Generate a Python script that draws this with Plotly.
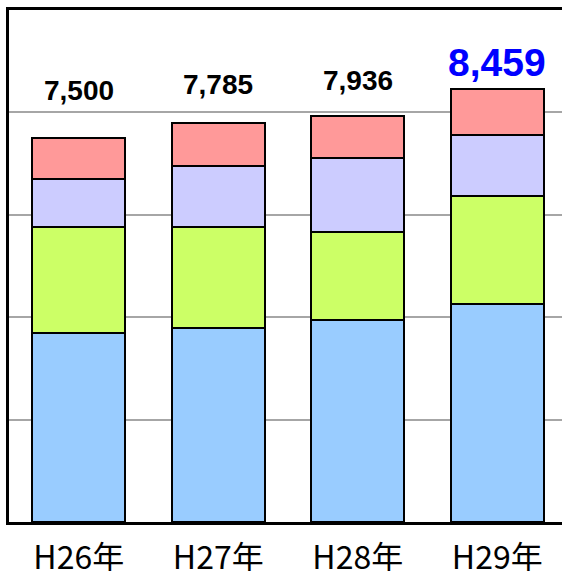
import plotly.graph_objects as go

categories = ["H26年", "H27年", "H28年", "H29年"]
seg_blue = [3700, 3780, 3940, 4250]
seg_green = [2070, 1990, 1720, 2110]
seg_lavender = [936, 1176, 1443, 1204]
seg_pink = [794, 839, 833, 895]
totals = [7500, 7785, 7936, 8459]
total_labels = ["7,500", "7,785", "7,936", "8,459"]

series = [
    (seg_blue, "#99CCFF"),
    (seg_green, "#CCFF66"),
    (seg_lavender, "#CCCCFF"),
    (seg_pink, "#FF9999"),
]

fig = go.Figure()
for vals, col in series:
    fig.add_trace(go.Bar(
        x=categories, y=vals, width=0.667,
        marker=dict(color=col, line=dict(color="black", width=2)),
        hoverinfo="skip", showlegend=False,
    ))

label_shift = [30, 21, 18, 3]
label_colors = ["black", "black", "black", "#0000FF"]
label_sizes = [28, 28, 28, 39]
for i, (c, t, lab) in enumerate(zip(categories, totals, total_labels)):
    fig.add_annotation(
        x=c, y=t, text="<b>%s</b>" % lab, showarrow=False,
        yanchor="bottom", yshift=label_shift[i],
        font=dict(family="Liberation Sans", size=label_sizes[i], color=label_colors[i]),
    )

fig.update_layout(
    width=562, height=571,
    margin=dict(l=9, r=0, t=10, b=49, autoexpand=False),
    barmode="stack",
    paper_bgcolor="white", plot_bgcolor="white",
    showlegend=False,
    xaxis=dict(
        range=[-0.5, 3.464], showline=True, linecolor="black", linewidth=3,
        mirror=True, ticks="", showgrid=False, automargin=False,
        ticklabelstandoff=6,
        tickfont=dict(family="Noto Sans CJK JP", size=32, color="black"),
    ),
    yaxis=dict(
        range=[0, 10000], dtick=2000, showline=True, linecolor="black", linewidth=3,
        showticklabels=False, ticks="", showgrid=True, gridcolor="#A6A6A6", gridwidth=2,
        zeroline=False, automargin=False,
    ),
)

fig.write_html(
    "out.html",
    config={"displayModeBar": False},
    post_script=(
        "document.body.style.margin='0';"
        "document.body.style.overflow='hidden';"
        "document.documentElement.style.overflow='hidden';"
    ),
)
